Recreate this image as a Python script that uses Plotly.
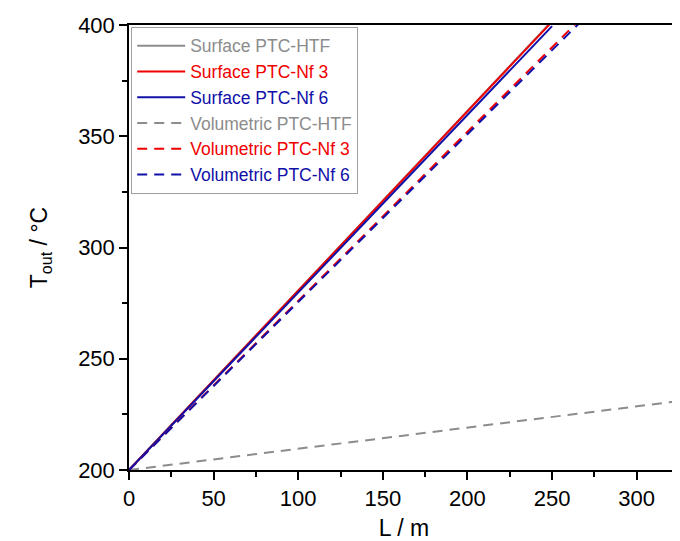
import plotly.graph_objects as go

# Comprimento do coletor (m) e temperatura de saída (°C)
L_surf = [0, 50, 100, 150, 200, 250]
surf_htf = [200, 240.4, 280.8, 321.2, 361.5, 401.8]
surf_nf3 = [200, 240.3, 280.6, 320.9, 361.2, 401.5]
surf_nf6 = [200, 239.9, 279.8, 319.7, 359.6, 399.5]

L_vol = [0, 50, 100, 150, 200, 250, 300, 325]
vol_htf = [200, 204.8, 209.5, 214.3, 219.1, 223.9, 228.6, 231.0]
vol_nf3 = [200, 238.0, 276.0, 314.0, 352.0, 390.0, 428.0, 447.0]
vol_nf6 = [200, 237.7, 275.5, 313.2, 351.0, 388.7, 426.4, 445.3]

cinza = '#8c8c8c'
vermelho = '#f00000'
azul = '#1010a8'
FONTE = 'Arial, Liberation Sans, sans-serif'
TRACO = '10px,7px'


def nome(txt, cor):
    return '<span style="color:%s">%s</span>' % (cor, txt)


series = [
    (L_surf, surf_htf, 'Surface PTC-HTF', cinza, 'solid'),
    (L_surf, surf_nf3, 'Surface PTC-Nf 3', vermelho, 'solid'),
    (L_surf, surf_nf6, 'Surface PTC-Nf 6', azul, 'solid'),
    (L_vol, vol_htf, 'Volumetric PTC-HTF', cinza, TRACO),
    (L_vol, vol_nf3, 'Volumetric PTC-Nf 3', vermelho, TRACO),
    (L_vol, vol_nf6, 'Volumetric PTC-Nf 6', azul, TRACO),
]

fig = go.Figure()
for x, y, txt, cor, dash in series:
    fig.add_trace(go.Scatter(x=x, y=y, mode='lines', name=nome(txt, cor),
                             line=dict(color=cor, width=2, dash=dash)))

eixo = dict(showline=True, linecolor='black', linewidth=1.5, mirror=True,
            ticks='outside', ticklen=8, tickwidth=1.5, tickcolor='black',
            showgrid=False, zeroline=False, automargin=False,
            tickfont=dict(family=FONTE, size=22, color='black'),
            minor=dict(ticks='outside', ticklen=5, tickwidth=1.5, tickcolor='black'))

fig.update_layout(
    width=680, height=541,
    margin=dict(l=121, r=9, t=17, b=79),
    paper_bgcolor='white', plot_bgcolor='white',
    font=dict(family=FONTE, color='black'),
    xaxis=dict(eixo, range=[0, 325], dtick=50, minor_dtick=25,
               title=dict(text='L / m', font=dict(size=23), standoff=10)),
    yaxis=dict(eixo, range=[200, 400], dtick=50, minor_dtick=25,
               title=dict(text='T<sub>out</sub> / °C', font=dict(size=23), standoff=24)),
    legend=dict(x=0.004, y=0.996, xanchor='left', yanchor='top',
                bgcolor='white', bordercolor='#a0a0a0', borderwidth=1,
                font=dict(family=FONTE, size=17.5), itemwidth=48),
    showlegend=True,
)

fig.write_html("out.html")
